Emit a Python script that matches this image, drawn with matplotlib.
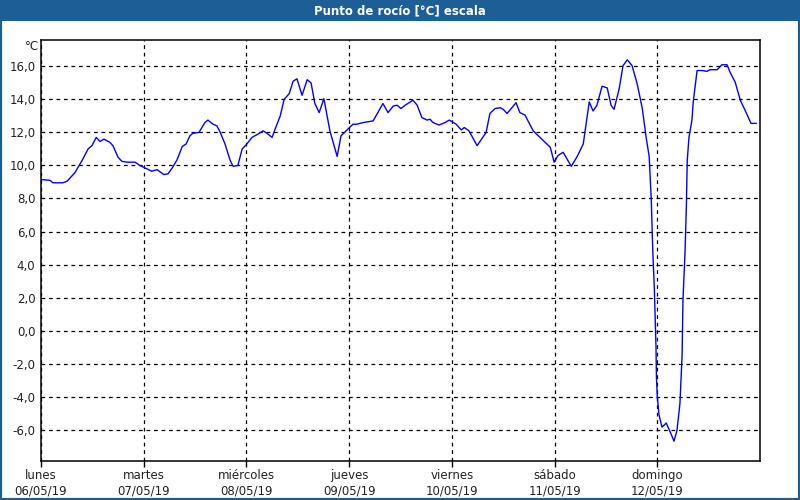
import matplotlib.pyplot as plt
from matplotlib.patches import Rectangle

# ── Data ───────────────────────────────────────────────────────────────────────
hours = [0.0, 2.1, 2.8, 5.1, 6.1, 7.9, 9.6, 11.0, 11.9, 12.9, 13.8, 14.7, 16.1, 16.8,
         18.0, 18.9, 20.1, 22.0, 23.1, 25.9, 27.1, 28.7, 29.7, 30.8, 31.8, 33.0, 33.9,
         34.8, 35.5, 36.9, 38.3, 39.0, 40.2, 41.1, 41.8, 43.0, 44.2, 44.9, 46.0, 47.0,
         48.1, 49.3, 50.7, 51.9, 52.8, 54.0, 54.7, 55.9, 56.8, 58.0, 58.9, 59.8, 61.0,
         62.2, 63.1, 64.0, 65.0, 66.1, 67.5, 69.2, 70.1, 71.5, 72.9, 73.8, 75.3, 77.6,
         79.9, 81.1, 82.3, 83.2, 84.1, 85.1, 86.9, 87.9, 89.0, 90.2, 90.9, 91.6, 93.0,
         94.4, 95.4, 97.0, 98.2, 98.9, 100.0, 101.9, 104.0, 104.9, 106.1, 107.3, 108.0,
         108.9, 111.0, 111.9, 113.1, 115.0, 116.6, 119.0, 119.9, 120.8, 122.0, 123.9,
         125.3, 126.7, 128.1, 129.0, 129.9, 131.1, 132.3, 133.2, 133.9, 135.1, 136.0,
         137.0, 138.1, 139.3, 140.5, 141.4, 142.1, 142.3, 142.6, 142.8, 143.0, 143.3,
         143.5, 143.7, 143.8, 144.0, 144.4, 145.1, 146.1, 147.2, 147.9, 148.6, 149.3,
         149.8, 150.0, 150.5, 150.8, 151.0, 151.4, 152.1, 152.4, 153.3, 154.5, 155.6,
         156.3, 158.0, 159.1, 160.3, 161.0, 162.2, 163.4, 164.5, 165.9, 167.1]
dew_point = [9.15, 9.1, 8.95, 8.95, 9.05, 9.56, 10.3, 11.0, 11.2, 11.7, 11.45, 11.6, 11.4,
             11.2, 10.5, 10.25, 10.2, 10.2, 10.0, 9.65, 9.75, 9.45, 9.5, 9.9, 10.35, 11.15,
             11.3, 11.8, 11.95, 12.0, 12.6, 12.75, 12.5, 12.4, 12.05, 11.3, 10.3, 9.95,
             10.0, 11.0, 11.3, 11.7, 11.9, 12.1, 11.95, 11.7, 12.2, 13.0, 14.0, 14.35, 15.1,
             15.25, 14.25, 15.2, 15.0, 13.75, 13.2, 14.05, 12.1, 10.55, 11.8, 12.15, 12.5,
             12.5, 12.6, 12.7, 13.75, 13.2, 13.6, 13.65, 13.45, 13.65, 13.95, 13.65, 12.9,
             12.75, 12.8, 12.6, 12.45, 12.6, 12.75, 12.5, 12.15, 12.3, 12.1, 11.2, 12.0,
             13.15, 13.45, 13.5, 13.4, 13.15, 13.8, 13.2, 13.05, 12.1, 11.7, 11.1, 10.2,
             10.6, 10.8, 9.95, 10.55, 11.3, 13.85, 13.3, 13.65, 14.8, 14.7, 13.65, 13.4,
             14.65, 16.05, 16.4, 16.05, 14.95, 13.45, 11.7, 10.55, 9.5, 7.9, 6.05, 4.45,
             2.65, 0.8, -1.0, -2.8, -4.0, -5.1, -5.85, -5.6, -6.25, -6.7, -6.05, -4.4,
             -1.5, 1.85, 4.85, 7.6, 10.3, 11.7, 12.75, 13.85, 15.75, 15.75, 15.7, 15.8,
             15.8, 16.1, 16.1, 15.65, 15.05, 13.95, 13.35, 12.55, 12.55]

day_names = ["lunes", "martes", "miércoles", "jueves", "viernes", "sábado", "domingo"]
day_dates = ["06/05/19", "07/05/19", "08/05/19", "09/05/19", "10/05/19", "11/05/19", "12/05/19"]
y_ticks = [16, 14, 12, 10, 8, 6, 4, 2, 0, -2, -4, -6]

# ── Figure ─────────────────────────────────────────────────────────────────────
plt.rcParams["font.family"] = ["DejaVu Sans"]
fig = plt.figure(figsize=(8, 5), dpi=100)
fig.patch.set_facecolor("white")

# title bar and outer frame
fig.patches.append(Rectangle((0, 0), 1, 1, transform=fig.transFigure, fill=False,
                             edgecolor="#1d5e97", linewidth=3))
fig.patches.append(Rectangle((0, 1 - 21 / 500), 1, 21 / 500, transform=fig.transFigure,
                             facecolor="#1d5e97", edgecolor="none"))
fig.text(0.5, 1 - 10.5 / 500, "Punto de rocío [°C] escala", color="white",
         fontsize=8.5, fontweight="bold", ha="center", va="center")

ax = fig.add_axes([41 / 800, 39 / 500, 719 / 800, 421 / 500])
ax.plot([h / 24 for h in hours], dew_point, color="#0000ff", linewidth=1)

ax.set_xlim(0, 7)
ax.set_ylim(-7.9, 17.6)
ax.set_yticks(y_ticks)
ax.set_yticklabels([f"{v:.1f}".replace(".", ",") for v in y_ticks])
ax.set_xticks(range(7))
ax.set_xticklabels([f"{n}\n{d}" for n, d in zip(day_names, day_dates)])

ax.grid(True, color="black", linestyle=(0, (3, 3)), linewidth=0.9)
ax.tick_params(axis="y", length=0, pad=4, labelsize=8.5, colors="#222222")
ax.tick_params(axis="x", length=4, width=1, direction="out", pad=2, labelsize=8.5,
               colors="black", labelcolor="#222222")
for s in ax.spines.values():
    s.set_linewidth(1.1)
    s.set_color("black")

fig.text(25 / 800, 1 - 46 / 500, "°C", fontsize=8.5, ha="left", va="center", color="#222222")

plt.savefig("out.png", dpi=100)
